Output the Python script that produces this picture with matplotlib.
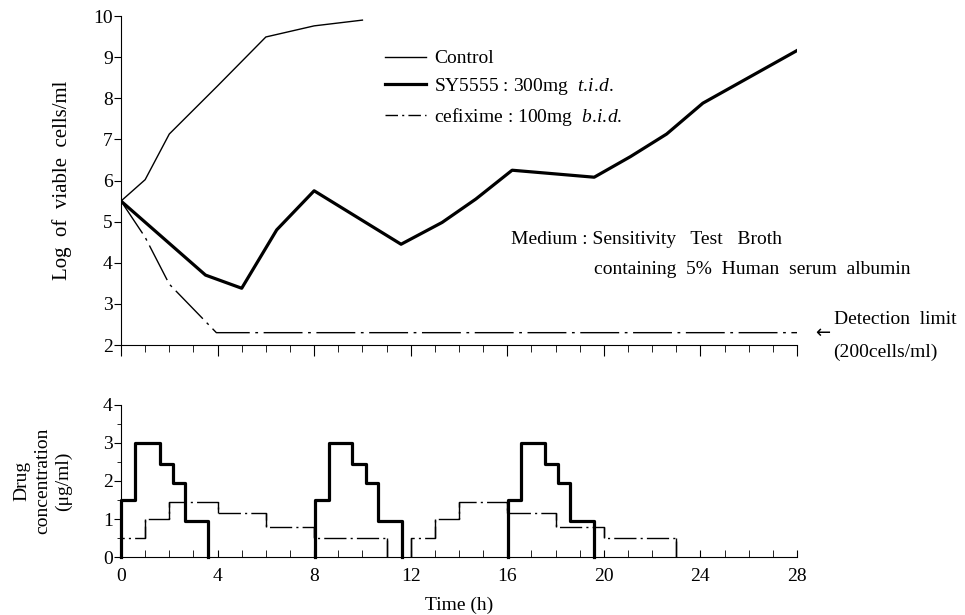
import numpy as np
import matplotlib
matplotlib.use("Agg")
import matplotlib.pyplot as plt
from matplotlib.lines import Line2D
from matplotlib.ticker import MultipleLocator

plt.rcParams['font.family'] = ['Liberation Serif', 'DejaVu Serif']
plt.rcParams['mathtext.fontset'] = 'custom'
plt.rcParams['mathtext.rm'] = 'Liberation Serif'
plt.rcParams['mathtext.it'] = 'Liberation Serif:italic'

# --- viable cell counts (log cells/ml) ---
control_t = [0, 1, 2, 4, 6, 8, 10]
control_v = [5.5, 6.02, 7.13, 8.3, 9.49, 9.76, 9.9]

sy_t = [0, 3.5, 5, 6.45, 8, 11.6, 13.3, 14.7, 16.2, 19.6, 21.1, 22.6, 24.1, 28]
sy_v = [5.5, 3.7, 3.38, 4.8, 5.75, 4.45, 4.98, 5.55, 6.25, 6.08, 6.58, 7.13, 7.88, 9.16]

cef_t = [0, 1, 2, 3.95, 28]
cef_v = [5.5, 4.62, 3.48, 2.3, 2.3]

# --- simulated drug concentrations (ug/ml), step profiles, 0 ends a dose ---
sy_conc_t = [0, 0.6, 1.6, 2.15, 2.65, 3.62,
             8.05, 8.6, 9.55, 10.15, 10.65, 11.62,
             16.05, 16.55, 17.55, 18.1, 18.6, 19.58]
sy_conc_v = [1.5, 3.0, 2.45, 1.95, 0.95, 0,
             1.5, 3.0, 2.45, 1.95, 0.95, 0,
             1.5, 3.0, 2.45, 1.95, 0.95, 0]

cef_conc_t = [0, 1, 2, 4, 6, 8, 11,
              12, 13, 14, 16, 18, 20, 23]
cef_conc_v = [0.5, 1.0, 1.45, 1.15, 0.8, 0.5, 0,
              0.5, 1.0, 1.45, 1.15, 0.8, 0.5, 0]

labels = ['Control',
          r'SY5555 : 300mg  $\mathit{t.\!i.\!d.}$',
          r'cefixime : 100mg  $\mathit{b.\!i.\!d.}$']


def dose_segments(t, v):
    # split a step profile into single doses (each ends at 0)
    segs = []
    start = 0
    for i, val in enumerate(v):
        if val == 0:
            segs.append(([t[start]] + t[start:i+1], [0] + v[start:i+1]))
            start = i + 1
    return segs


fs = 14
fig = plt.figure(figsize=(9.65, 6.15), dpi=100)
ax1 = fig.add_axes([121/965, 1-345/615, 676/965, 329/615])
ax2 = fig.add_axes([121/965, 1-557/615, 676/965, 152/615])

# top panel
ax1.plot(control_t, control_v, color='black', lw=1.0)
ax1.plot(sy_t, sy_v, color='black', lw=2.3)
ax1.plot(cef_t, cef_v, color='black', lw=1.0, dashes=(28, 4, 2, 4))

ax1.set_xlim(0, 28)
ax1.set_ylim(2, 10)
for s in ['top', 'right']:
    ax1.spines[s].set_visible(False)
ax1.xaxis.set_major_locator(MultipleLocator(4))
ax1.xaxis.set_minor_locator(MultipleLocator(1))
ax1.tick_params(axis='x', which='major', direction='out', length=8, labelbottom=False)
ax1.tick_params(axis='x', which='minor', direction='out', length=5)
ax1.yaxis.set_major_locator(MultipleLocator(1))
ax1.tick_params(axis='y', direction='out', length=5, labelsize=fs, pad=1)
ax1.set_ylabel('Log  of  viable  cells/ml', fontsize=fs + 1, labelpad=15)

handles = [Line2D([], [], color='black', lw=1.0),
           Line2D([], [], color='black', lw=2.3),
           Line2D([], [], color='black', lw=1.0, dashes=(9, 3, 1.5, 3))]
ax1.legend(handles, labels, loc='upper left', bbox_to_anchor=(375/965, 1-40/615),
           bbox_transform=fig.transFigure, frameon=False, fontsize=fs,
           handlelength=2.1, handletextpad=0.45, labelspacing=0.45, borderpad=0)

fig.text(511/965, 1-240/615, 'Medium : Sensitivity   Test   Broth', fontsize=fs,
         va='center', ha='left')
fig.text(594/965, 1-270/615, 'containing  5%  Human  serum  albumin', fontsize=fs,
         va='center', ha='left')
fig.text(815/965, 1-333/615, '\u2190', fontsize=fs - 1, va='center', ha='left',
         family='DejaVu Sans')
fig.text(834/965, 1-319/615, 'Detection  limit', fontsize=fs, va='center', ha='left')
fig.text(833/965, 1-352/615, '(200cells/ml)', fontsize=fs, va='center', ha='left')

# bottom panel
for ts, vs in dose_segments(sy_conc_t, sy_conc_v):
    ax2.step(ts, vs, where='post', color='black', lw=2.3, clip_on=False)
for ts, vs in dose_segments(cef_conc_t, cef_conc_v):
    ax2.step(ts, vs, where='post', color='black', lw=1.0, dashes=(16, 3, 1.5, 3))
    # risers drawn solid
    ax2.vlines(ts[1:], np.minimum(vs[:-1], vs[1:]), np.maximum(vs[:-1], vs[1:]),
               color='black', lw=1.0)

ax2.set_xlim(0, 28)
ax2.set_ylim(0, 4)
for s in ['top', 'right']:
    ax2.spines[s].set_visible(False)
ax2.xaxis.set_major_locator(MultipleLocator(4))
ax2.xaxis.set_minor_locator(MultipleLocator(1))
ax2.tick_params(axis='x', which='both', direction='in', length=5, labelsize=fs, pad=8)
ax2.yaxis.set_major_locator(MultipleLocator(1))
ax2.yaxis.set_minor_locator(MultipleLocator(0.5))
ax2.tick_params(axis='y', which='major', direction='out', length=5, labelsize=fs, pad=1)
ax2.tick_params(axis='y', which='minor', direction='out', length=3)
ax2.set_xlabel('Time (h)', fontsize=fs, labelpad=8)
ax2.set_ylabel('Drug\nconcentration\n(\u03bcg/ml)', fontsize=fs, labelpad=22,
               linespacing=1.3)

fig.savefig('out.png', dpi=100)
